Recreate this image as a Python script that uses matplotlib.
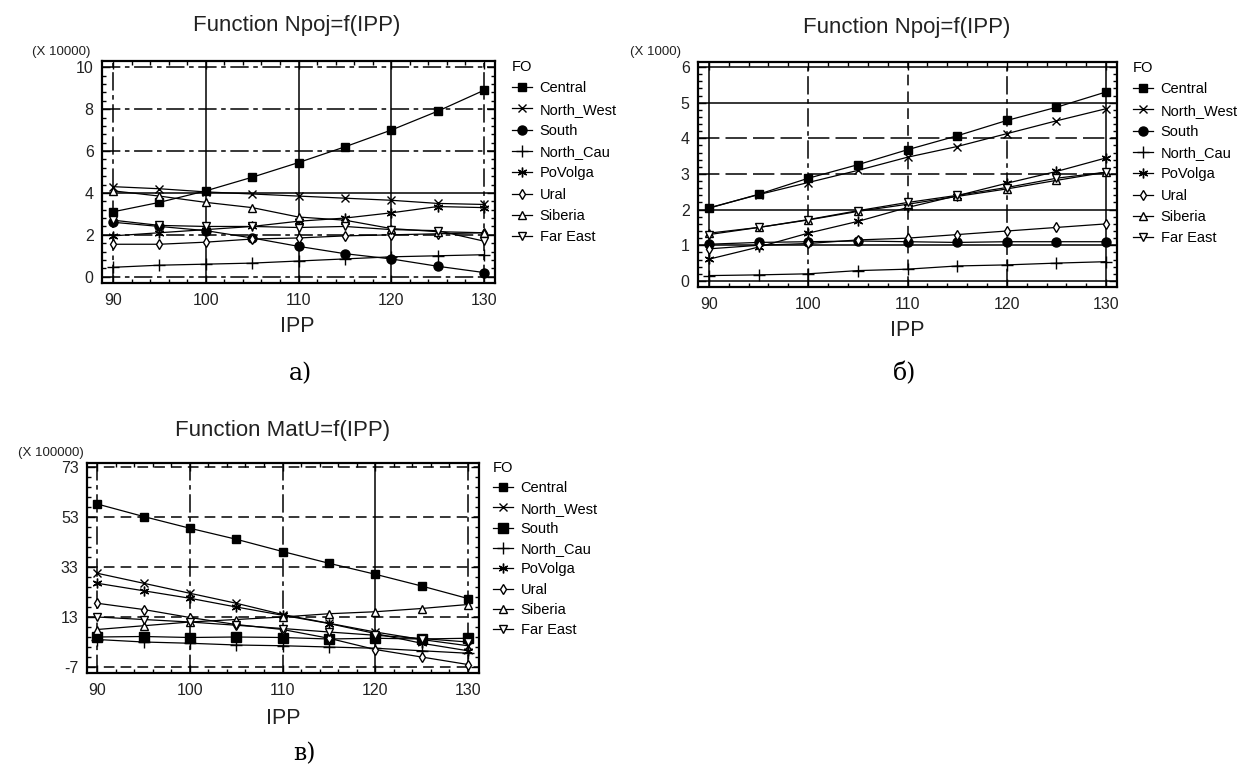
"""
Three panels: Npoj and MatU as functions of IPP by federal district (FO).
"""

import matplotlib.pyplot as plt
from matplotlib.ticker import AutoMinorLocator

plt.rcParams['font.family'] = ['Liberation Sans', 'DejaVu Sans']
plt.rcParams['axes.unicode_minus'] = False

# Data
ipp = [90, 95, 100, 105, 110, 115, 120, 125, 130]
regions = ['Central', 'North_West', 'South', 'North_Cau',
           'PoVolga', 'Ural', 'Siberia', 'Far East']

# panel a) Npoj, x 10000 (rows in the order of `regions`)
npoj_a = [
    [3.1, 3.55, 4.1, 4.75, 5.45, 6.2, 7.0, 7.9, 8.9],
    [4.3, 4.2, 4.05, 3.95, 3.85, 3.75, 3.65, 3.5, 3.45],
    [2.6, 2.4, 2.2, 1.85, 1.45, 1.1, 0.85, 0.5, 0.2],
    [0.45, 0.55, 0.6, 0.65, 0.75, 0.85, 0.95, 1.0, 1.05],
    [1.95, 2.1, 2.25, 2.4, 2.65, 2.8, 3.05, 3.35, 3.3],
    [1.55, 1.55, 1.65, 1.8, 1.85, 1.95, 2.0, 2.05, 2.1],
    [4.1, 3.85, 3.55, 3.3, 2.85, 2.7, 2.3, 2.15, 2.1],
    [2.7, 2.45, 2.4, 2.4, 2.35, 2.4, 2.25, 2.2, 1.7],
]

# panel б) Npoj, x 1000
npoj_b = [
    [2.04, 2.43, 2.88, 3.26, 3.68, 4.07, 4.5, 4.87, 5.3],
    [2.05, 2.42, 2.76, 3.1, 3.47, 3.77, 4.13, 4.49, 4.83],
    [1.03, 1.08, 1.1, 1.12, 1.1, 1.08, 1.1, 1.1, 1.1],
    [0.15, 0.17, 0.2, 0.29, 0.33, 0.42, 0.45, 0.5, 0.54],
    [0.61, 0.95, 1.34, 1.67, 2.06, 2.39, 2.74, 3.07, 3.45],
    [0.9, 1.0, 1.05, 1.15, 1.2, 1.3, 1.4, 1.5, 1.6],
    [1.34, 1.5, 1.71, 1.95, 2.15, 2.37, 2.58, 2.82, 3.05],
    [1.3, 1.5, 1.72, 1.97, 2.2, 2.4, 2.62, 2.88, 3.05],
]

# panel в) MatU, x 100000
matu_c = [
    [58.2, 53.2, 48.5, 44.1, 39.2, 34.5, 30.1, 25.4, 20.4],
    [30.5, 26.5, 22.5, 18.5, 14.0, 10.5, 7.0, 4.0, 1.5],
    [5.0, 5.2, 4.8, 5.0, 4.8, 4.2, 4.5, 4.2, 4.5],
    [4.0, 3.0, 2.5, 1.8, 1.5, 1.0, 0.5, -0.5, -1.5],
    [26.5, 23.5, 20.5, 17.0, 13.7, 10.4, 6.4, 2.5, -0.5],
    [18.5, 16.0, 12.8, 10.0, 8.0, 4.5, 0.0, -3.0, -6.0],
    [8.0, 9.5, 11.0, 12.0, 13.0, 14.3, 15.1, 16.4, 18.0],
    [13.0, 12.0, 11.0, 9.7, 8.4, 7.0, 5.7, 4.4, 3.0],
]

W, H = 1247, 769


def fx(px):
    return px / W


def fy(py):
    return 1 - py / H


# marker, face colour, size
markers = {
    'Central': ('s', 'black', 6),
    'North_West': ('x', 'black', 6),
    'South': ('o', 'black', 6.5),
    'North_Cau': ('+', 'black', 9),
    'PoVolga': ((6, 2, 0), 'black', 7),
    'Ural': ('d', 'white', 5),
    'Siberia': ('^', 'white', 5.5),
    'Far East': ('v', 'white', 5.5),
}

grid_dashes = {
    '-': None,
    '-.': (12, 3, 3, 3),
    '--': (14, 4),
    ':': (7, 4),
}

fig = plt.figure(figsize=(W / 100, H / 100), dpi=100)


def panel(box, rows, xlim, ylim, yticks, hstyles, vstyles, south_marker,
          title, title_xy, mult, mult_xy, label_xy, letter, letter_xy,
          legend_xy, spacing):
    l, t, r, b = box
    ax = fig.add_axes([fx(l), fy(b), (r - l) / W, (b - t) / H])

    for y, st in zip(yticks, hstyles):
        if grid_dashes[st] is None:
            ax.axhline(y, color='black', lw=1.1, zorder=1)
        else:
            ax.axhline(y, color='black', lw=1.1, zorder=1, dashes=grid_dashes[st])
    for x, st in zip(range(90, 131, 10), vstyles):
        if grid_dashes[st] is None:
            ax.axvline(x, color='black', lw=1.1, zorder=1)
        else:
            ax.axvline(x, color='black', lw=1.1, zorder=1, dashes=grid_dashes[st])

    handles = []
    for name, vals in zip(regions, rows):
        m, fc, ms = markers[name]
        if name == 'South':
            m = south_marker
        line, = ax.plot(ipp, vals, color='black', lw=0.9, marker=m, ms=ms,
                        mfc=fc, mec='black', mew=1, zorder=3)
        handles.append(line)

    ax.set_xlim(*xlim)
    ax.set_ylim(*ylim)
    ax.set_xticks(range(90, 131, 10))
    ax.set_yticks(yticks)
    ax.xaxis.set_minor_locator(AutoMinorLocator(5))
    ax.yaxis.set_minor_locator(AutoMinorLocator(5))
    ax.tick_params(which='both', direction='in', top=True, right=True,
                   labelsize=11.5, width=1, color='black',
                   labelcolor='#222222')
    ax.tick_params(which='major', length=6)
    ax.tick_params(which='minor', length=3)
    ax.tick_params(axis='x', pad=7)
    ax.tick_params(axis='y', pad=6)
    for sp in ax.spines.values():
        sp.set_linewidth(1.6)

    fig.text(fx(title_xy[0]), fy(title_xy[1]), title, ha='center',
             va='center', fontsize=16, color='#222222')
    fig.text(fx(mult_xy[0]), fy(mult_xy[1]), mult, ha='left', va='center',
             fontsize=9.5, color='#222222')
    fig.text(fx(label_xy[0]), fy(label_xy[1]), 'IPP', ha='center',
             va='center', fontsize=15.5, color='#222222')
    fig.text(fx(letter_xy[0]), fy(letter_xy[1]), letter, ha='center',
             va='center', fontsize=17, family='DejaVu Serif')

    ax.legend(handles, regions, loc='upper left',
              bbox_to_anchor=(fx(legend_xy[0]), fy(legend_xy[1])),
              bbox_transform=fig.transFigure, frameon=False,
              title='FO', alignment='left', fontsize=10.5,
              title_fontsize=10.5, handlelength=1.4, handletextpad=0.5,
              labelspacing=spacing, borderpad=0, borderaxespad=0)
    return ax


panel((102, 61, 495, 283), npoj_a, (88.8, 131.2), (-0.3, 10.3),
      [0, 2, 4, 6, 8, 10], ['-.', '-.', '-', '-.', '-.', '-.'],
      ['-.', '-', '-', '-', '-.'], 'o',
      'Function Npoj=f(IPP)', (297, 25), '(X 10000)', (32, 52),
      (297, 327), 'а)', (300, 374), (512, 60), 0.5)

panel((698, 62, 1117, 287), npoj_b, (88.9, 131.1), (-0.17, 6.14),
      [0, 1, 2, 3, 4, 5, 6], ['-', '-', '-', '--', '--', '-', '-'],
      ['-', '-.', ':', '-.', '-'], 'o',
      'Function Npoj=f(IPP)', (907, 27), '(X 1000)', (630, 52),
      (907, 331), 'б)', (905, 374), (1133, 61), 0.5)

panel((87, 463, 479, 673), matu_c, (88.9, 131.2), (-9.4, 74.6),
      [-7, 13, 33, 53, 73], [':', ':', ':', ':', ':'],
      ['-.', '-.', '-.', '-', '-.'], 's',
      'Function MatU=f(IPP)', (283, 430), '(X 100000)', (18, 453),
      (283, 718), 'в)', (304, 754), (493, 461), 0.43)

fig.savefig('out.png', dpi=100)
plt.close(fig)
